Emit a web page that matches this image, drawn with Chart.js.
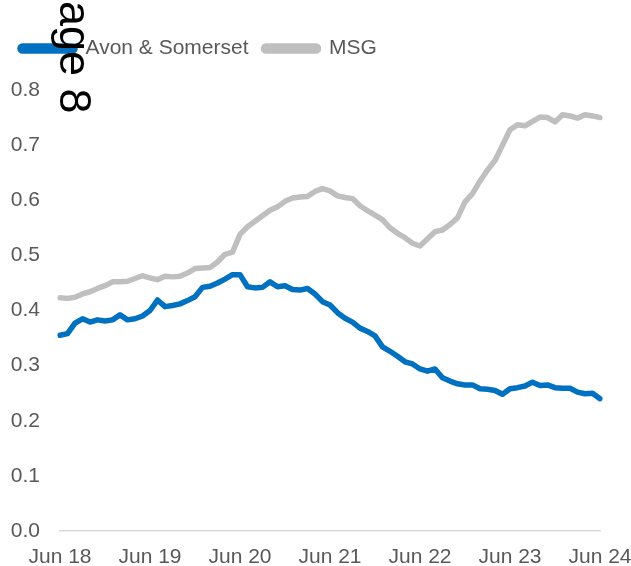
<!DOCTYPE html>
<html>
<head>
<meta charset="utf-8">
<script src="https://cdn.jsdelivr.net/npm/chart.js@4"></script>
<style>
  html, body { margin: 0; padding: 0; background: #fff; }
  #wrap { position: relative; width: 631px; height: 566px; overflow: hidden; }
  #page-note {
    position: absolute; left: 98px; top: -29px;
    font: 45px "Liberation Sans", Arial, sans-serif; line-height: 1;
    color: #000; white-space: nowrap;
    transform: rotate(90deg); transform-origin: 0 0;
  }
</style>
</head>
<body>
<div id="wrap">
  <canvas id="chart" width="631" height="566"></canvas>
  <div id="page-note">Page 8</div>
</div>
<script>
/* ── Data (monthly, Jun 18 → Jun 24) ───── */
const years = ['18', '19', '20', '21', '22', '23', '24'];
const monthNames = ['Jun', 'Jul', 'Aug', 'Sep', 'Oct', 'Nov', 'Dec', 'Jan', 'Feb', 'Mar', 'Apr', 'May'];

const avonSomerset = [
  0.355, 0.358, 0.377, 0.385, 0.379, 0.383, 0.381, 0.383, 0.392, 0.383, 0.385, 0.390,
  0.400, 0.419, 0.407, 0.409, 0.412, 0.418, 0.425, 0.442, 0.444, 0.450, 0.457, 0.465,
  0.465, 0.443, 0.441, 0.442, 0.452, 0.443, 0.445, 0.438, 0.437, 0.440, 0.430, 0.416,
  0.410, 0.396, 0.386, 0.379, 0.368, 0.362, 0.354, 0.334, 0.326, 0.317, 0.307, 0.303,
  0.294, 0.290, 0.294, 0.278, 0.272, 0.267, 0.265, 0.265, 0.258, 0.257, 0.255, 0.248,
  0.258, 0.260, 0.263, 0.270, 0.264, 0.265, 0.260, 0.259, 0.259, 0.252, 0.249, 0.250,
  0.240
];
const msg = [
  0.423, 0.422, 0.424, 0.430, 0.434, 0.440, 0.445, 0.452, 0.452, 0.453, 0.458, 0.463,
  0.459, 0.456, 0.462, 0.461, 0.462, 0.468, 0.476, 0.477, 0.478, 0.488, 0.502, 0.506,
  0.538, 0.552, 0.562, 0.572, 0.582, 0.588, 0.598, 0.604, 0.606, 0.607, 0.616, 0.621,
  0.617, 0.608, 0.605, 0.603, 0.590, 0.581, 0.573, 0.565, 0.550, 0.540, 0.532, 0.522,
  0.517, 0.530, 0.543, 0.546, 0.556, 0.568, 0.597, 0.612, 0.635, 0.655, 0.672, 0.700,
  0.728, 0.737, 0.735, 0.743, 0.751, 0.750, 0.742, 0.755, 0.753, 0.749, 0.755, 0.753,
  0.750
];
const yTicks = [0, 0.1, 0.2, 0.3, 0.4, 0.5, 0.6, 0.7, 0.8];

// month labels built from the arrays above
const labels = [];
for (let i = 0; i < avonSomerset.length; i++) {
  const yr = Number(years[0]) + Math.floor((i + 5) / 12);
  labels.push(monthNames[i % 12] + ' ' + yr);
}

const grey = '#595959';
const font = { family: '"Liberation Sans", Arial, sans-serif', size: 21 };

/* legend box gets a fixed height so the plot starts at the 0.8 line */
const legendHeight = {
  id: 'legendHeight',
  beforeLayout(chart) {
    const lg = chart.legend;
    if (lg && !lg._fixed) {
      const fit = lg.fit;
      lg.fit = function () { fit.call(this); this.height = 67; };
      lg._fixed = true;
    }
  }
};

new Chart(document.getElementById('chart'), {
  type: 'line',
  data: {
    labels,
    datasets: [
      {
        label: 'Avon & Somerset',
        data: avonSomerset,
        borderColor: '#0070C0',
        backgroundColor: '#0070C0',
        borderWidth: 5.5,
        pointRadius: 0,
        tension: 0,
        borderJoinStyle: 'round',
        borderCapStyle: 'round'
      },
      {
        label: 'MSG',
        data: msg,
        borderColor: '#BFBFBF',
        backgroundColor: '#BFBFBF',
        borderWidth: 5.5,
        pointRadius: 0,
        tension: 0,
        borderJoinStyle: 'round',
        borderCapStyle: 'round'
      }
    ]
  },
  plugins: [legendHeight],
  options: {
    responsive: false,
    animation: false,
    layout: { padding: { left: 5, right: 31, top: 23, bottom: 0 } },
    plugins: {
      tooltip: { enabled: false },
      legend: {
        position: 'top',
        align: 'start',
        labels: {
          color: grey,
          font,
          boxWidth: 55,
          boxHeight: 5,
          padding: 15,
          useBorderRadius: true,
          borderRadius: 2.5
        }
      }
    },
    scales: {
      x: {
        offset: false,
        grid: { display: false, drawTicks: false },
        border: { display: true, color: '#D9D9D9', width: 1.5 },
        ticks: {
          color: grey,
          font,
          padding: 14,
          autoSkip: false,
          maxRotation: 0,
          callback: (v, i) => (i % 12 === 0 ? 'Jun ' + years[i / 12] : null)
        },
        afterFit: s => {
          s.height = 35;
          s.paddingLeft = 0;
          s.paddingRight = 0;
        }
      },
      y: {
        min: 0,
        max: 0.8,
        grid: { display: false, drawTicks: false },
        border: { display: false },
        afterBuildTicks: s => { s.ticks = yTicks.map(v => ({ value: v })); },
        ticks: {
          color: grey,
          font,
          padding: 20,
          callback: v => v.toFixed(1)
        },
        afterFit: s => { s.width = 55; }
      }
    }
  }
});
</script>
</body>
</html>
